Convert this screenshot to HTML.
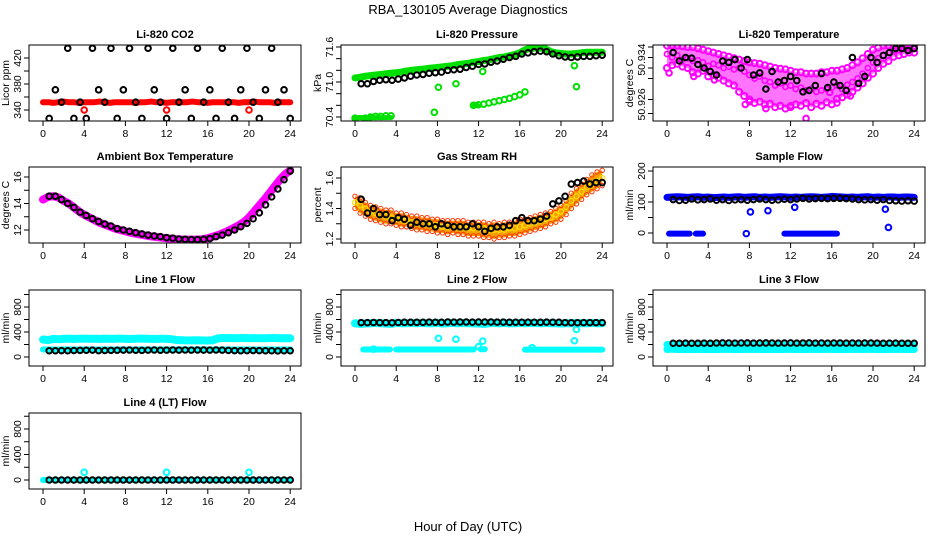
<!DOCTYPE html>
<html><head><meta charset="utf-8">
<style>
html,body{margin:0;padding:0;background:#fff;}
svg{display:block;font-family:"Liberation Sans",Arial,sans-serif;}
</style></head>
<body>
<svg id="chart" width="936" height="540" viewBox="0 0 936 540" xmlns="http://www.w3.org/2000/svg">
<text x="468" y="14" font-size="13" text-anchor="middle">RBA_130105  Average Diagnostics</text>
<text x="468" y="531" font-size="13" text-anchor="middle">Hour of Day (UTC)</text>
</svg>
<script>
// ---- data ----
const xTickLabels = [0,4,8,12,16,20,24];
const co2Black = [327,371,352,435,327,352,327,435,371,352,435,327,371,435,352,327,435,371,352,327,435,352,371,327,435,352,371,327,435,352,327,371,435,352,327,371,435,352,371,327];
const co2Red = [352,352,351,352,353,352,352,351,352,352,352,353,352,351,352,352,352,352,351,352,352,353,352,352,351,352,352,352,352,353,352,352,351,352,352,352,352,352,351,352,352,353,352,352,352,351,352,352,352];
const co2RedOutT = [4,12,20];
const co2RedOutV = [340,340,340];

const presGreen = [71.07,71.08,71.10,71.11,71.12,71.13,71.14,71.15,71.16,71.17,71.19,71.20,71.21,71.22,71.23,71.24,71.25,71.26,71.27,71.28,71.30,71.31,71.32,71.34,71.35,71.37,71.38,71.40,71.42,71.43,71.45,71.47,71.50,71.55,71.58,71.58,71.58,71.57,71.52,71.50,71.49,71.48,71.48,71.49,71.50,71.51,71.51,71.51,71.51];
const presBlack = [70.97,70.97,71.01,71.03,71.04,71.03,71.05,71.07,71.10,71.12,71.13,71.15,71.16,71.17,71.20,71.21,71.22,71.25,71.27,71.30,71.31,71.34,71.36,71.39,71.42,71.44,71.48,71.50,71.52,71.53,71.52,71.48,71.45,71.43,71.42,71.43,71.44,71.44,71.45,71.46];
const presLowT = [0,0.5,1,1.5,2,2.5,3,3.5,11.5,12,12.5,13,13.5,14,14.5,15,15.5,16,16.5,7.7,8.1,9.8,12.4,21.3,21.5];
const presLowV = [70.38,70.37,70.38,70.40,70.41,70.41,70.42,70.42,70.60,70.61,70.62,70.64,70.66,70.68,70.70,70.72,70.75,70.78,70.83,70.48,70.91,70.97,71.18,71.28,70.92];

const tempUpper = [50.9362,50.9362,50.9362,50.9361,50.9360,50.9360,50.9358,50.9356,50.9354,50.9352,50.9350,50.9348,50.9346,50.9344,50.9342,50.9340,50.9338,50.9337,50.9336,50.9334,50.9332,50.9330,50.9329,50.9328,50.9326,50.9324,50.9324,50.9322,50.9322,50.9322,50.9324,50.9324,50.9326,50.9326,50.9328,50.9330,50.9334,50.9338,50.9344,50.9350,50.9356,50.9359,50.9362,50.9362,50.9362,50.9362,50.9362,50.9362,50.9362];
const tempMid = [50.9350,50.9345,50.9348,50.9342,50.9344,50.9340,50.9341,50.9338,50.9333,50.9336,50.9334,50.9330,50.9332,50.9328,50.9330,50.9325,50.9320,50.9315,50.9318,50.9312,50.9310,50.9305,50.9308,50.9303,50.9305,50.9300,50.9302,50.9298,50.9300,50.9296,50.9298,50.9300,50.9302,50.9305,50.9300,50.9306,50.9310,50.9315,50.9322,50.9330,50.9338,50.9344,50.9348,50.9352,50.9355,50.9356,50.9357,50.9358,50.9358];
const tempLower = [50.9330,50.9334,50.9336,50.9332,50.9330,50.9324,50.9322,50.9326,50.9318,50.9320,50.9316,50.9312,50.9308,50.9305,50.9296,50.9290,50.9285,50.9280,50.9282,50.9278,50.9279,50.9274,50.9276,50.9272,50.9274,50.9278,50.9276,50.9280,50.9274,50.9279,50.9276,50.9281,50.9278,50.9286,50.9288,50.9292,50.9296,50.9302,50.9308,50.9316,50.9322,50.9330,50.9336,50.9340,50.9346,50.9348,50.9350,50.9352,50.9352];
const tempBlack = [50.9352,50.9340,50.9345,50.9344,50.9335,50.9330,50.9325,50.9320,50.9340,50.9338,50.9342,50.9330,50.9342,50.9320,50.9323,50.9300,50.9325,50.9310,50.9312,50.9318,50.9312,50.9296,50.9298,50.9305,50.9322,50.9302,50.9310,50.9305,50.9298,50.9345,50.9308,50.9318,50.9345,50.9338,50.9348,50.9352,50.9358,50.9358,50.9355,50.9358];
const tempOutT = [0.2,2.6,4.6,7.6,8.0,9.6,12.0,13.5,15.8,16.5,17.8];
const tempOutV = [50.9323,50.9318,50.9313,50.9278,50.9282,50.9272,50.9276,50.9258,50.9295,50.9280,50.9290];

const ambient = [14.3,14.5,14.55,14.45,14.2,14.0,13.7,13.4,13.15,12.95,12.75,12.55,12.4,12.25,12.1,12.0,11.9,11.8,11.72,11.65,11.58,11.52,11.47,11.42,11.38,11.33,11.3,11.28,11.27,11.27,11.28,11.3,11.38,11.5,11.62,11.78,11.95,12.15,12.35,12.6,12.95,13.4,13.85,14.3,14.8,15.3,15.8,16.2,16.5];
const ambientBlack = [14.55,14.55,14.3,14.0,13.7,13.35,13.1,12.85,12.65,12.45,12.3,12.1,12.0,11.9,11.8,11.7,11.62,11.55,11.5,11.42,11.38,11.32,11.3,11.28,11.28,11.3,11.35,11.5,11.62,11.8,12.0,12.25,12.5,12.85,13.3,13.9,14.5,15.1,15.8,16.45];

const rhMid = [1.44,1.42,1.40,1.38,1.37,1.36,1.35,1.34,1.33,1.33,1.32,1.31,1.31,1.30,1.30,1.29,1.29,1.28,1.28,1.28,1.28,1.28,1.27,1.27,1.27,1.27,1.26,1.26,1.26,1.26,1.27,1.27,1.28,1.29,1.30,1.31,1.32,1.33,1.34,1.36,1.38,1.41,1.45,1.48,1.51,1.54,1.56,1.58,1.60];
const rhHigh = [1.48,1.47,1.44,1.42,1.41,1.40,1.39,1.39,1.37,1.37,1.36,1.35,1.35,1.34,1.34,1.33,1.33,1.32,1.32,1.32,1.32,1.32,1.31,1.31,1.31,1.31,1.30,1.31,1.30,1.31,1.31,1.32,1.33,1.33,1.34,1.35,1.36,1.37,1.38,1.40,1.42,1.45,1.50,1.53,1.56,1.59,1.62,1.64,1.65];
const rhLow = [1.40,1.37,1.35,1.33,1.32,1.31,1.30,1.30,1.29,1.28,1.28,1.27,1.26,1.26,1.25,1.25,1.24,1.24,1.23,1.24,1.23,1.23,1.22,1.22,1.22,1.21,1.21,1.20,1.21,1.21,1.22,1.22,1.23,1.24,1.25,1.26,1.27,1.28,1.30,1.31,1.33,1.36,1.40,1.43,1.46,1.49,1.51,1.53,1.55];
const rhBlack = [1.46,1.37,1.40,1.36,1.36,1.32,1.34,1.33,1.29,1.31,1.30,1.30,1.28,1.30,1.29,1.28,1.28,1.28,1.30,1.28,1.25,1.27,1.28,1.28,1.29,1.32,1.34,1.32,1.32,1.33,1.35,1.43,1.45,1.48,1.56,1.57,1.58,1.56,1.57,1.57];

const sampleBlue = [115,116,117,116,115,116,117,115,116,114,115,116,115,116,117,115,116,117,115,116,115,116,117,116,115,116,115,116,117,116,115,116,118,117,116,115,116,115,116,117,115,116,115,116,116,115,116,116,115];
const sampleBlack = [108,105,106,110,107,108,110,106,108,105,107,108,106,108,110,108,106,107,109,108,110,112,110,111,112,111,112,112,111,110,108,107,108,106,108,105,104,103,104,103];
const sampleZeroStart = [0.2,2.8,11.4];
const sampleZeroEnd = [2.2,3.5,16.5];
const sampleOutT = [7.7,8.1,9.8,12.4,21.2,21.5];
const sampleOutV = [-2,68,72,83,77,18];

const l1Upper = [280,270,290,285,290,295,288,292,295,290,293,288,294,290,292,295,290,288,293,295,292,290,288,293,290,285,270,268,265,266,268,265,264,268,300,302,305,300,302,305,300,303,301,300,302,305,300,302,300];
const l1Lower = [120,122,120,121,120,122,121,120,122,121,120,121,122,120,121,122,120,121,120,122,121,120,121,122,120,121,120,122,121,120,121,122,120,121,120,121,122,120,121,120,122,121,120,121,122,120,121,120,121];
const l1Black = [100,100,102,100,104,106,108,110,102,104,106,108,110,112,108,106,110,112,108,110,112,110,112,110,112,111,110,112,110,106,102,100,102,104,102,100,100,98,100,100];

const l2Upper = [540,530,535,540,545,540,535,530,545,540,540,545,540,545,540,540,545,535,540,545,540,545,540,540,535,530,540,545,540,545,540,540,545,540,545,545,540,545,540,540,535,540,540,545,540,540,545,540,540];
const l2Black = [550,550,552,550,550,548,552,555,555,555,555,558,556,555,560,558,560,560,558,560,560,560,558,558,555,556,555,556,556,555,558,556,555,550,548,548,550,550,550,550];
const l2LowStart = [0.8,4.0,12.2,16.5];
const l2LowEnd = [3.4,11.5,12.6,24.0];
const l2LowLevel = [120,120,125,118];
const l2OutT = [1.8,8.1,9.8,12.0,12.4,17.2,21.3,21.5];
const l2OutV = [125,300,285,165,255,150,260,440];

const l3Low = [120,125,120,122,118,120,121,120,122,120,120,121,122,120,121,120,122,121,120,121,120,122,120,121,122,120,121,120,122,121,120,121,122,120,121,120,122,121,120,121,122,120,121,120,122,121,120,121,120];
const l3Mid = [200,195,190,200,185,195,190,200,190,195,200,195,190,200,185,195,200,195,190,200,195,190,200,195,190,200,195,190,200,195,200,195,190,200,195,190,200,195,190,195,200,195,190,200,195,190,195,200,190];
const l3Black = [220,220,222,220,220,222,220,224,225,224,222,224,225,222,224,225,224,222,224,225,222,224,225,222,224,222,224,224,222,224,222,224,224,222,220,222,222,220,220,220];

const l4Black = [0,0,0,0,0,0,0,0,0,0,0,0,0,0,0,0,0,0,0,0,0,0,0,0,0,0,0,0,0,0,0,0,0,0,0,0,0,0,0,0];
const l4Cyan = [0,0,0,0,0,0,0,0,0,0,0,0,0,0,0,0,0,0,0,0,0,0,0,0,0,0,0,0,0,0,0,0,0,0,0,0,0,0,0,0,0,0,0,0,0,0,0,0,0];
const l4OutT = [4,12,20];
const l4OutV = [120,120,120];

// ---- layout ----
const svg = document.getElementById('chart');
const NS = 'http://www.w3.org/2000/svg';
const halfT = []; for (let i = 0; i <= 48; i++) halfT.push(i * 0.5);
const blackT = []; for (let i = 1; i <= 40; i++) blackT.push(i * 0.6);
const colX0 = [43, 355, 667];
const rowTop = [45, 167, 290, 413];
const boxH = 76, pxH = 10.3;

function mk(tag, attrs, parent) {
  const e = document.createElementNS(NS, tag);
  for (const k in attrs) e.setAttribute(k, attrs[k]);
  (parent || svg).appendChild(e);
  return e;
}

const panels = [
  {name:'co2', col:0,row:0,title:'Li-820 CO2',ylab:'Licor ppm',v1:420,y1:58,v2:340,y2:110,ticks:[340,360,380,400,420],labels:[[340,'340'],[380,'380'],[420,'420']]},
  {name:'pressure', col:1,row:0,title:'Li-820 Pressure',ylab:'kPa',v1:71.6,y1:47,v2:70.4,y2:117,ticks:[70.4,70.6,70.8,71.0,71.2,71.4,71.6],labels:[[70.4,'70.4'],[71.0,'71.0'],[71.6,'71.6']]},
  {name:'temperature', col:2,row:0,title:'Li-820 Temperature',ylab:'degrees C',v1:50.936,y1:47,v2:50.926,y2:117,ticks:[50.936,50.9345,50.933,50.9315,50.9285,50.9265],labels:[[50.9342,'50.934'],[50.9278,'50.926']]},
  {name:'ambient', col:0,row:1,title:'Ambient Box Temperature',ylab:'degrees C',v1:16,y1:177,v2:12,y2:230,ticks:[12,13,14,15,16],labels:[[12,'12'],[14,'14'],[16,'16']]},
  {name:'rh', col:1,row:1,title:'Gas Stream RH',ylab:'percent',v1:1.6,y1:178,v2:1.2,y2:239,ticks:[1.2,1.3,1.4,1.5,1.6],labels:[[1.2,'1.2'],[1.4,'1.4'],[1.6,'1.6']]},
  {name:'sample', col:2,row:1,title:'Sample Flow',ylab:'ml/min',v1:200,y1:171,v2:0,y2:233,ticks:[0,50,100,150,200],labels:[[0,'0'],[100,'100'],[200,'200']]},
  {name:'line1', col:0,row:2,title:'Line 1 Flow',ylab:'ml/min',v1:800,y1:307,v2:0,y2:357,ticks:[0,200,400,600,800,1000],labels:[[0,'0'],[400,'400'],[800,'800']]},
  {name:'line2', col:1,row:2,title:'Line 2 Flow',ylab:'ml/min',v1:800,y1:307,v2:0,y2:357,ticks:[0,200,400,600,800,1000],labels:[[0,'0'],[400,'400'],[800,'800']]},
  {name:'line3', col:2,row:2,title:'Line 3 Flow',ylab:'ml/min',v1:800,y1:307,v2:0,y2:357,ticks:[0,200,400,600,800,1000],labels:[[0,'0'],[400,'400'],[800,'800']]},
  {name:'line4', col:0,row:3,title:'Line 4 (LT) Flow',ylab:'ml/min',v1:800,y1:429,v2:0,y2:480,ticks:[0,200,400,600,800,1000],labels:[[0,'0'],[400,'400'],[800,'800']]}
];

function sx(p, t) { return colX0[p.col] + t * pxH; }
function sy(p, v) { return p.y1 + (v - p.v1) * (p.y2 - p.y1) / (p.v2 - p.v1); }

panels.forEach(p => {
  const g = mk('g', {});
  
  
  const L = colX0[p.col] - 14, R = colX0[p.col] + 258, T = rowTop[p.row], B = T + boxH;
  const clip = mk('clipPath', {id: 'clip-' + p.name}, g);
  mk('rect', {x: L, y: T, width: R - L, height: B - T}, clip);
  p.plot = mk('g', {'clip-path': 'url(#clip-' + p.name + ')'}, g);
  
  
  p.frameParent = g; p.L = L; p.R = R; p.T = T; p.B = B;
  const title = mk('text', {x: (L + R) / 2, y: T - 7, 'font-size': 11, 'font-weight': 'bold', 'text-anchor': 'middle'}, g);
  title.textContent = p.title;
  
  
  xTickLabels.forEach(t => {
    const x = sx(p, t);
    mk('line', {x1: x, y1: B, x2: x, y2: B + 5, stroke: '#000'}, g);
    const tx = mk('text', {x: x, y: B + 16, 'font-size': 10.5, 'text-anchor': 'middle'}, g);
    tx.textContent = t;
    
    
  });
  p.ticks.forEach(v => {
    const y = sy(p, v);
    mk('line', {x1: L - 5, y1: y, x2: L, y2: y, stroke: '#000'}, g);
  });
  p.labels.forEach(l => {
    const y = sy(p, l[0]), x = L - 8;
    const tx = mk('text', {x: x, y: y, 'font-size': 10.5, 'text-anchor': 'middle', transform: 'rotate(-90 ' + x + ' ' + y + ')'}, g);
    tx.textContent = l[1];
    
    
  });
  const yx = L - 20, yy = (T + B) / 2;
  const yl = mk('text', {x: yx, y: yy, 'font-size': 10.5, 'text-anchor': 'middle', transform: 'rotate(-90 ' + yx + ' ' + yy + ')'}, g);
  yl.textContent = p.ylab;
  
  
});

function P(name) { return panels.find(p => p.name === name); }
function pts(name, ts, vs, color, r, sw) {
  const p = P(name);
  const grp = mk('g', {}, p.plot);
  
  
  for (let i = 0; i < vs.length; i++) {
    const c = mk('circle', {cx: sx(p, ts[i]), cy: sy(p, vs[i]), r: r || 2.8, fill: 'none', stroke: color, 'stroke-width': sw || 1.5}, grp);
    
    
  }
}
function dense(name, ts, vs, color, w) {
  const p = P(name);
  const d = ts.map((t, i) => (i ? 'L' : 'M') + sx(p, t) + ' ' + sy(p, vs[i])).join('');
  const l = mk('path', {d: d, fill: 'none', stroke: color, 'stroke-width': w || 6, 'stroke-linejoin': 'round', 'stroke-linecap': 'round'}, p.plot);
  
  
}
function seg(name, t0s, t1s, vs, color, w) {
  const p = P(name);
  for (let i = 0; i < t0s.length; i++) {
    const y = sy(p, vs[i]);
    const l = mk('line', {x1: sx(p, t0s[i]), y1: y, x2: sx(p, t1s[i]), y2: y, stroke: color, 'stroke-width': w || 6, 'stroke-linecap': 'round'}, p.plot);
    
    
  }
}
function band(name, ts, lo, hi, color, op) {
  const p = P(name);
  let d = '';
  for (let i = 0; i < ts.length; i++) d += (i ? 'L' : 'M') + sx(p, ts[i]) + ' ' + sy(p, hi[i]);
  for (let i = ts.length - 1; i >= 0; i--) d += 'L' + sx(p, ts[i]) + ' ' + sy(p, lo[i]);
  const a = mk('path', {d: d + 'Z', fill: color, 'fill-opacity': op || 1}, p.plot);
  
  
}

// CO2
dense('co2', halfT, co2Red, '#ff0000', 6);
pts('co2', co2RedOutT, co2RedOutV, '#ff0000', 2.8, 2);
pts('co2', blackT, co2Black, '#000', 2.8, 2);
// Pressure
dense('pressure', halfT, presGreen, '#00e000', 7);
seg('pressure', [0, 11.5], [3.5, 11.9], [70.39, 70.6], '#00e000', 5);
pts('pressure', presLowT, presLowV, '#00e000', 2.8, 2);
pts('pressure', blackT, presBlack, '#000', 2.8, 2);
// Temperature
band('temperature', halfT, tempLower, tempUpper, '#ff00ff', 0.55);
pts('temperature', halfT, tempUpper, '#ff00ff', 3, 2);
pts('temperature', halfT, tempLower, '#ff00ff', 3, 2);
pts('temperature', halfT, tempMid, '#ff00ff', 2.6, 1.6);
pts('temperature', tempOutT, tempOutV, '#ff00ff', 2.8, 2);
pts('temperature', blackT, tempBlack, '#000', 2.8, 2);
// Ambient
dense('ambient', halfT, ambient, '#ff00ff', 8);
pts('ambient', blackT, ambientBlack, '#000', 2.8, 2);
// RH
band('rh', halfT, rhLow, rhHigh, '#f5a000');
pts('rh', halfT, rhMid, '#ffe000', 2.5, 1.2);
pts('rh', halfT, rhHigh, '#ff3000', 2.2, 1);
pts('rh', halfT, rhLow, '#ff3000', 2.2, 1);
pts('rh', blackT, rhBlack, '#000', 2.8, 2);
// Sample flow
dense('sample', halfT, sampleBlue, '#0000ff', 7);
seg('sample', sampleZeroStart, sampleZeroEnd, [-2, -2, -2], '#0000ff', 6);
pts('sample', sampleOutT, sampleOutV, '#0000ff', 2.8, 2);
pts('sample', blackT, sampleBlack, '#000', 2.8, 2);
// Line 1
dense('line1', halfT, l1Upper, '#00ffff', 8);
dense('line1', halfT, l1Lower, '#00ffff', 6);
pts('line1', blackT, l1Black, '#000', 2.8, 2);
// Line 2
dense('line2', halfT, l2Upper, '#00ffff', 8);
seg('line2', l2LowStart, l2LowEnd, l2LowLevel, '#00ffff', 6);
pts('line2', l2OutT, l2OutV, '#00ffff', 2.8, 2);
pts('line2', blackT, l2Black, '#000', 2.8, 2);
// Line 3
dense('line3', halfT, l3Low, '#00ffff', 7);
dense('line3', halfT, l3Mid, '#00ffff', 7);
pts('line3', blackT, l3Black, '#000', 2.8, 2);
// Line 4
dense('line4', halfT, l4Cyan, '#00ffff', 6);
pts('line4', l4OutT, l4OutV, '#00ffff', 2.8, 2);
pts('line4', blackT, l4Black, '#000', 2.8, 2);

// frames on top
panels.forEach(p => {
  const box = mk('rect', {x: p.L, y: p.T, width: p.R - p.L, height: p.B - p.T, fill: 'none', stroke: '#000', 'stroke-width': 1}, p.frameParent);
  
  
});
</script>
</body></html>
